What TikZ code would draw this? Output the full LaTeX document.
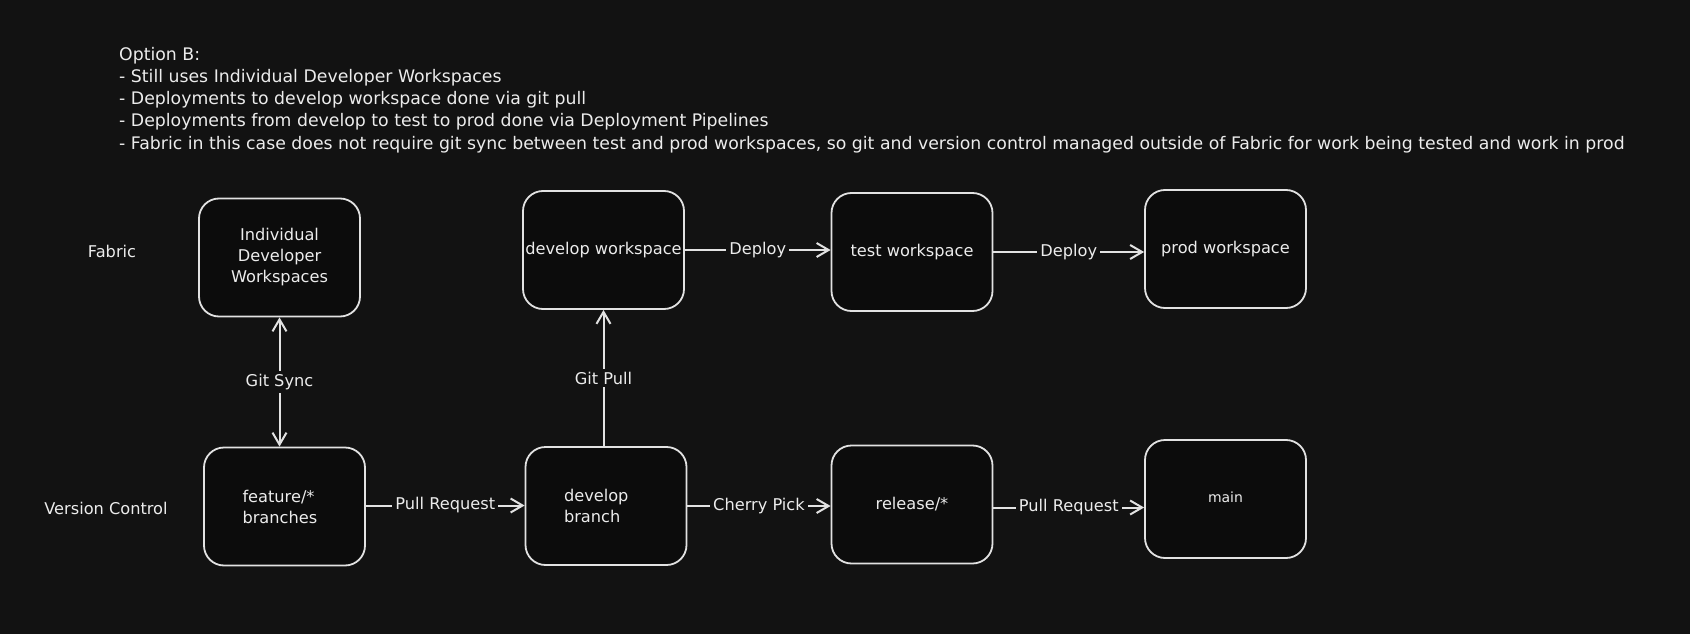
\documentclass[tikz,border=0pt]{standalone}
\usepackage{fontspec}
\setmainfont{DejaVu Sans}
\usetikzlibrary{arrows.meta}
\definecolor{bg}{HTML}{121212}
\definecolor{boxfill}{HTML}{0C0C0C}
\definecolor{ink}{HTML}{E2E2E2}
\definecolor{txt}{HTML}{ECECEC}
\tikzset{
  box/.style={draw=ink, fill=boxfill, line width=1.8pt, rounded corners=20pt,
    minimum width=161pt, minimum height=118pt, text=txt, font=\fontsize{16.2}{21}\selectfont, align=center, inner sep=2pt},
  lbl/.style={fill=bg, text=txt, font=\fontsize{16.2}{21}\selectfont, inner sep=3pt},
  plain/.style={text=txt, font=\fontsize{16.2}{21}\selectfont},
  conn/.style={draw=ink, line width=2pt, -{Straight Barb[length=12pt,width=14pt,line width=2pt]}},
  dconn/.style={draw=ink, line width=2pt, {Straight Barb[length=12pt,width=14pt,line width=2pt]}-{Straight Barb[length=12pt,width=14pt,line width=2pt]}}
}
\begin{document}
\begin{tikzpicture}[x=1pt,y=-1pt]
\fill[bg] (0,0) rectangle (1690,634);
\useasboundingbox (0,0) rectangle (1690,634);

\node[plain, anchor=north west, align=left, font=\fontsize{17.3}{22.2}\selectfont, inner sep=0pt] (notes) at (119,47)
{Option B:\\
- Still uses Individual Developer Workspaces\\
- Deployments to develop workspace done via git pull\\
- Deployments from develop to test to prod done via Deployment Pipelines\\
- Fabric in this case does not require git sync between test and prod workspaces, so git and version control managed outside of Fabric for work being tested and work in prod};

\node[plain] (fabric) at (112,251) {Fabric};
\node[plain] (vc) at (106,508) {Version Control};

\node[box] (indiv) at (279.5,257.5) {Individual\\Developer\\Workspaces};
\node[box] (devws) at (603.5,250) {develop workspace};
\node[box] (testws) at (912,252) {test workspace};
\node[box] (prodws) at (1225.5,249) {prod workspace};

\node[box, align=left, text width=84pt] (feat) at (284.5,506.5) {feature/*\\branches};
\node[box, align=left, text width=84pt] (devbr) at (606,506) {develop\\branch};
\node[box] (rel) at (912,504.5) {release/*};
\node[box, font=\fontsize{14}{18}\selectfont] (main) at (1225.5,499) {\raisebox{3pt}{main}};

% Git Sync
\draw[dconn] (indiv.south) -- (indiv.south |- feat.north) node[midway, lbl] (gitsync) {Git Sync};
% Git Pull
\draw[conn] (devbr.north -| devws.south) -- (devws.south) node[midway, lbl] (gitpull) {Git Pull};
% Deploy
\draw[conn] (devws.east) -- (devws.east -| testws.west) node[midway, lbl] (dep1) {Deploy};
\draw[conn] (testws.east) -- (testws.east -| prodws.west) node[midway, lbl] (dep2) {Deploy};
% Bottom row
\draw[conn] ([yshift=1pt]feat.east) -- ([yshift=1pt]feat.east -| devbr.west) node[midway, lbl] (pr1) {Pull Request};
\draw[conn] (devbr.east) -- (devbr.east -| rel.west) node[midway, lbl] (cp) {Cherry Pick};
\draw[conn] ([yshift=-3pt]rel.east) -- ([yshift=-3pt]rel.east -| main.west) node[midway, lbl] (pr2) {Pull Request};
\end{tikzpicture}
\end{document}
